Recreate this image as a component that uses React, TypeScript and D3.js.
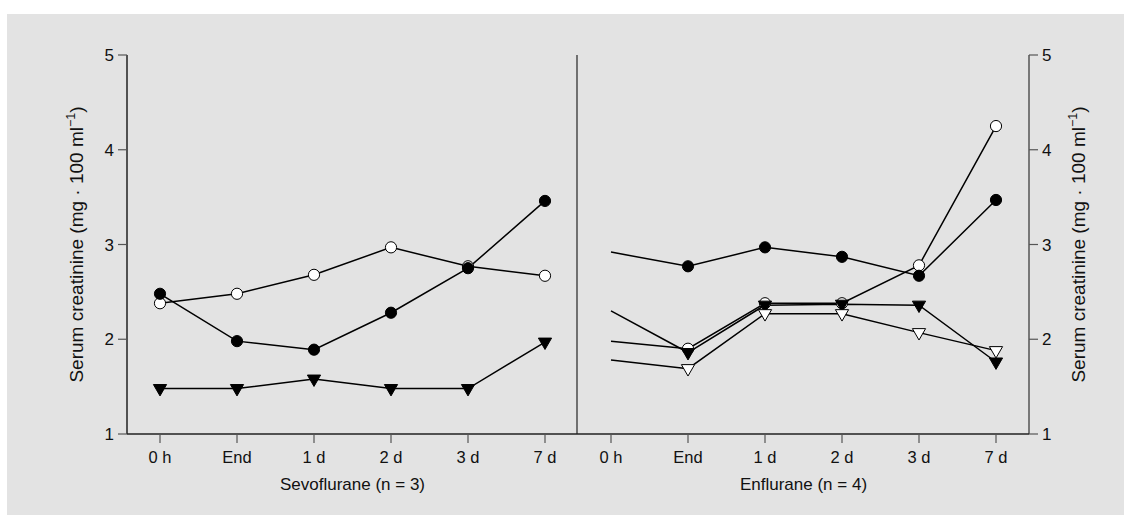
import * as d3 from "d3";

// time points on the x axis
const timeLabels = ["0 h", "End", "1 d", "2 d", "3 d", "7 d"];
const yTicks = [1, 2, 3, 4, 5];

// Sevoflurane group (n = 3)
const sevoOpenCircle = [2.38, 2.48, 2.68, 2.97, 2.77, 2.67];
const sevoFilledCircle = [2.48, 1.98, 1.89, 2.28, 2.75, 3.46];
const sevoFilledTri = [1.48, 1.48, 1.58, 1.48, 1.48, 1.97];

// Enflurane group (n = 4)
const enfOpenCircle = [1.98, 1.9, 2.38, 2.38, 2.78, 4.25];
const enfFilledCircle = [2.92, 2.77, 2.97, 2.87, 2.67, 3.47];
const enfFilledTri = [2.3, 1.86, 2.36, 2.37, 2.36, 1.76];
const enfOpenTri = [1.78, 1.69, 2.27, 2.27, 2.07, 1.88];

type Series = { values: number[]; marker: "circle" | "tri"; filled: boolean };

const sevoSeries: Series[] = [
  { values: sevoOpenCircle, marker: "circle", filled: false },
  { values: sevoFilledCircle, marker: "circle", filled: true },
  { values: sevoFilledTri, marker: "tri", filled: true },
];
const enfSeries: Series[] = [
  { values: enfOpenCircle, marker: "circle", filled: false },
  { values: enfFilledCircle, marker: "circle", filled: true },
  { values: enfFilledTri, marker: "tri", filled: true },
  { values: enfOpenTri, marker: "tri", filled: false },
];

const W = 1124;
const H = 515;
const top = 55;
const bottom = 434;
const leftAxis = 127;
const divider = 577;
const rightAxis = 1029;
const font = "'Liberation Sans', Arial, sans-serif";

const y = d3.scaleLinear().domain([1, 5]).range([bottom, top]);
const xSevo = d3.scalePoint<string>().domain(timeLabels).range([160, 545]);
const xEnf = d3.scalePoint<string>().domain(timeLabels).range([611, 996]);

const line = (x: d3.ScalePoint<string>) =>
  d3
    .line<number>()
    .x((_, i) => x(timeLabels[i]) as number)
    .y((d) => y(d));

function Marker({ cx, cy, s }: { cx: number; cy: number; s: Series }) {
  const fill = s.filled ? "#000" : "#fff";
  if (s.marker === "circle") {
    return <circle cx={cx} cy={cy} r={5.6} fill={fill} stroke="#000" strokeWidth={1} />;
  }
  const p = d3.path();
  p.moveTo(cx - 6.6, cy - 4);
  p.lineTo(cx + 6.6, cy - 4);
  p.lineTo(cx, cy + 7.4);
  p.closePath();
  return <path d={p.toString()} fill={fill} stroke="#000" strokeWidth={1} />;
}

function Panel({
  series,
  x,
  markFrom,
  title,
}: {
  series: Series[];
  x: d3.ScalePoint<string>;
  markFrom: number;
  title: string;
}) {
  const gen = line(x);
  const mid = ((x(timeLabels[0]) as number) + (x(timeLabels[5]) as number)) / 2;
  return (
    <g>
      {timeLabels.map((t) => (
        <g key={t}>
          <line x1={x(t)} x2={x(t)} y1={bottom} y2={bottom + 9} stroke="#555" strokeWidth={1.2} />
          <text x={x(t)} y={bottom + 29} textAnchor="middle" fontSize={16.5} fontFamily={font} fill="#111">
            {t}
          </text>
        </g>
      ))}
      <text x={mid} y={bottom + 56} textAnchor="middle" fontSize={17} fontFamily={font} fill="#111">
        {title}
      </text>
      {series.map((s, i) => (
        <path key={i} d={gen(s.values) || ""} fill="none" stroke="#000" strokeWidth={1.5} />
      ))}
      {series.map((s, i) =>
        s.values.map((v, j) =>
          j < markFrom ? null : (
            <Marker key={i + "-" + j} cx={x(timeLabels[j]) as number} cy={y(v)} s={s} />
          )
        )
      )}
    </g>
  );
}

function YTitle({ cx }: { cx: number }) {
  const cy = (top + bottom) / 2;
  return (
    <text
      transform={`translate(${cx},${cy}) rotate(-90)`}
      textAnchor="middle"
      fontSize={19}
      fontFamily={font}
      fill="#111"
    >
      Serum creatinine (mg · 100 ml
      <tspan dy={-8} fontSize={12.5}>
        −1
      </tspan>
      <tspan dy={8}>)</tspan>
    </text>
  );
}

export default function App() {
  return (
    <svg width={W} height={H} style={{ position: "absolute", left: 0, top: 0 }}>
      <rect x={7} y={14} width={W - 7} height={H - 14} fill="#e3e3e3" />

      {/* frame lines */}
      <line x1={leftAxis} x2={leftAxis} y1={top} y2={bottom} stroke="#222" strokeWidth={1.5} />
      <line x1={divider} x2={divider} y1={top} y2={bottom} stroke="#333" strokeWidth={1.3} />
      <line x1={rightAxis} x2={rightAxis} y1={top} y2={bottom} stroke="#555" strokeWidth={1.5} />
      <line x1={leftAxis} x2={rightAxis} y1={bottom} y2={bottom} stroke="#222" strokeWidth={1.5} />

      {yTicks.map((t) => (
        <g key={t}>
          <line x1={leftAxis - 9} x2={leftAxis} y1={y(t)} y2={y(t)} stroke="#555" strokeWidth={1.2} />
          <text x={leftAxis - 13} y={y(t) + 6} textAnchor="end" fontSize={17} fontFamily={font} fill="#111">
            {t}
          </text>
          <line x1={rightAxis} x2={rightAxis + 9} y1={y(t)} y2={y(t)} stroke="#555" strokeWidth={1.2} />
          <text x={rightAxis + 13} y={y(t) + 6} textAnchor="start" fontSize={17} fontFamily={font} fill="#111">
            {t}
          </text>
        </g>
      ))}

      <YTitle cx={83} />
      <YTitle cx={1085} />

      <Panel series={sevoSeries} x={xSevo} markFrom={0} title="Sevoflurane (n = 3)" />
      <Panel series={enfSeries} x={xEnf} markFrom={1} title="Enflurane (n = 4)" />
    </svg>
  );
}
